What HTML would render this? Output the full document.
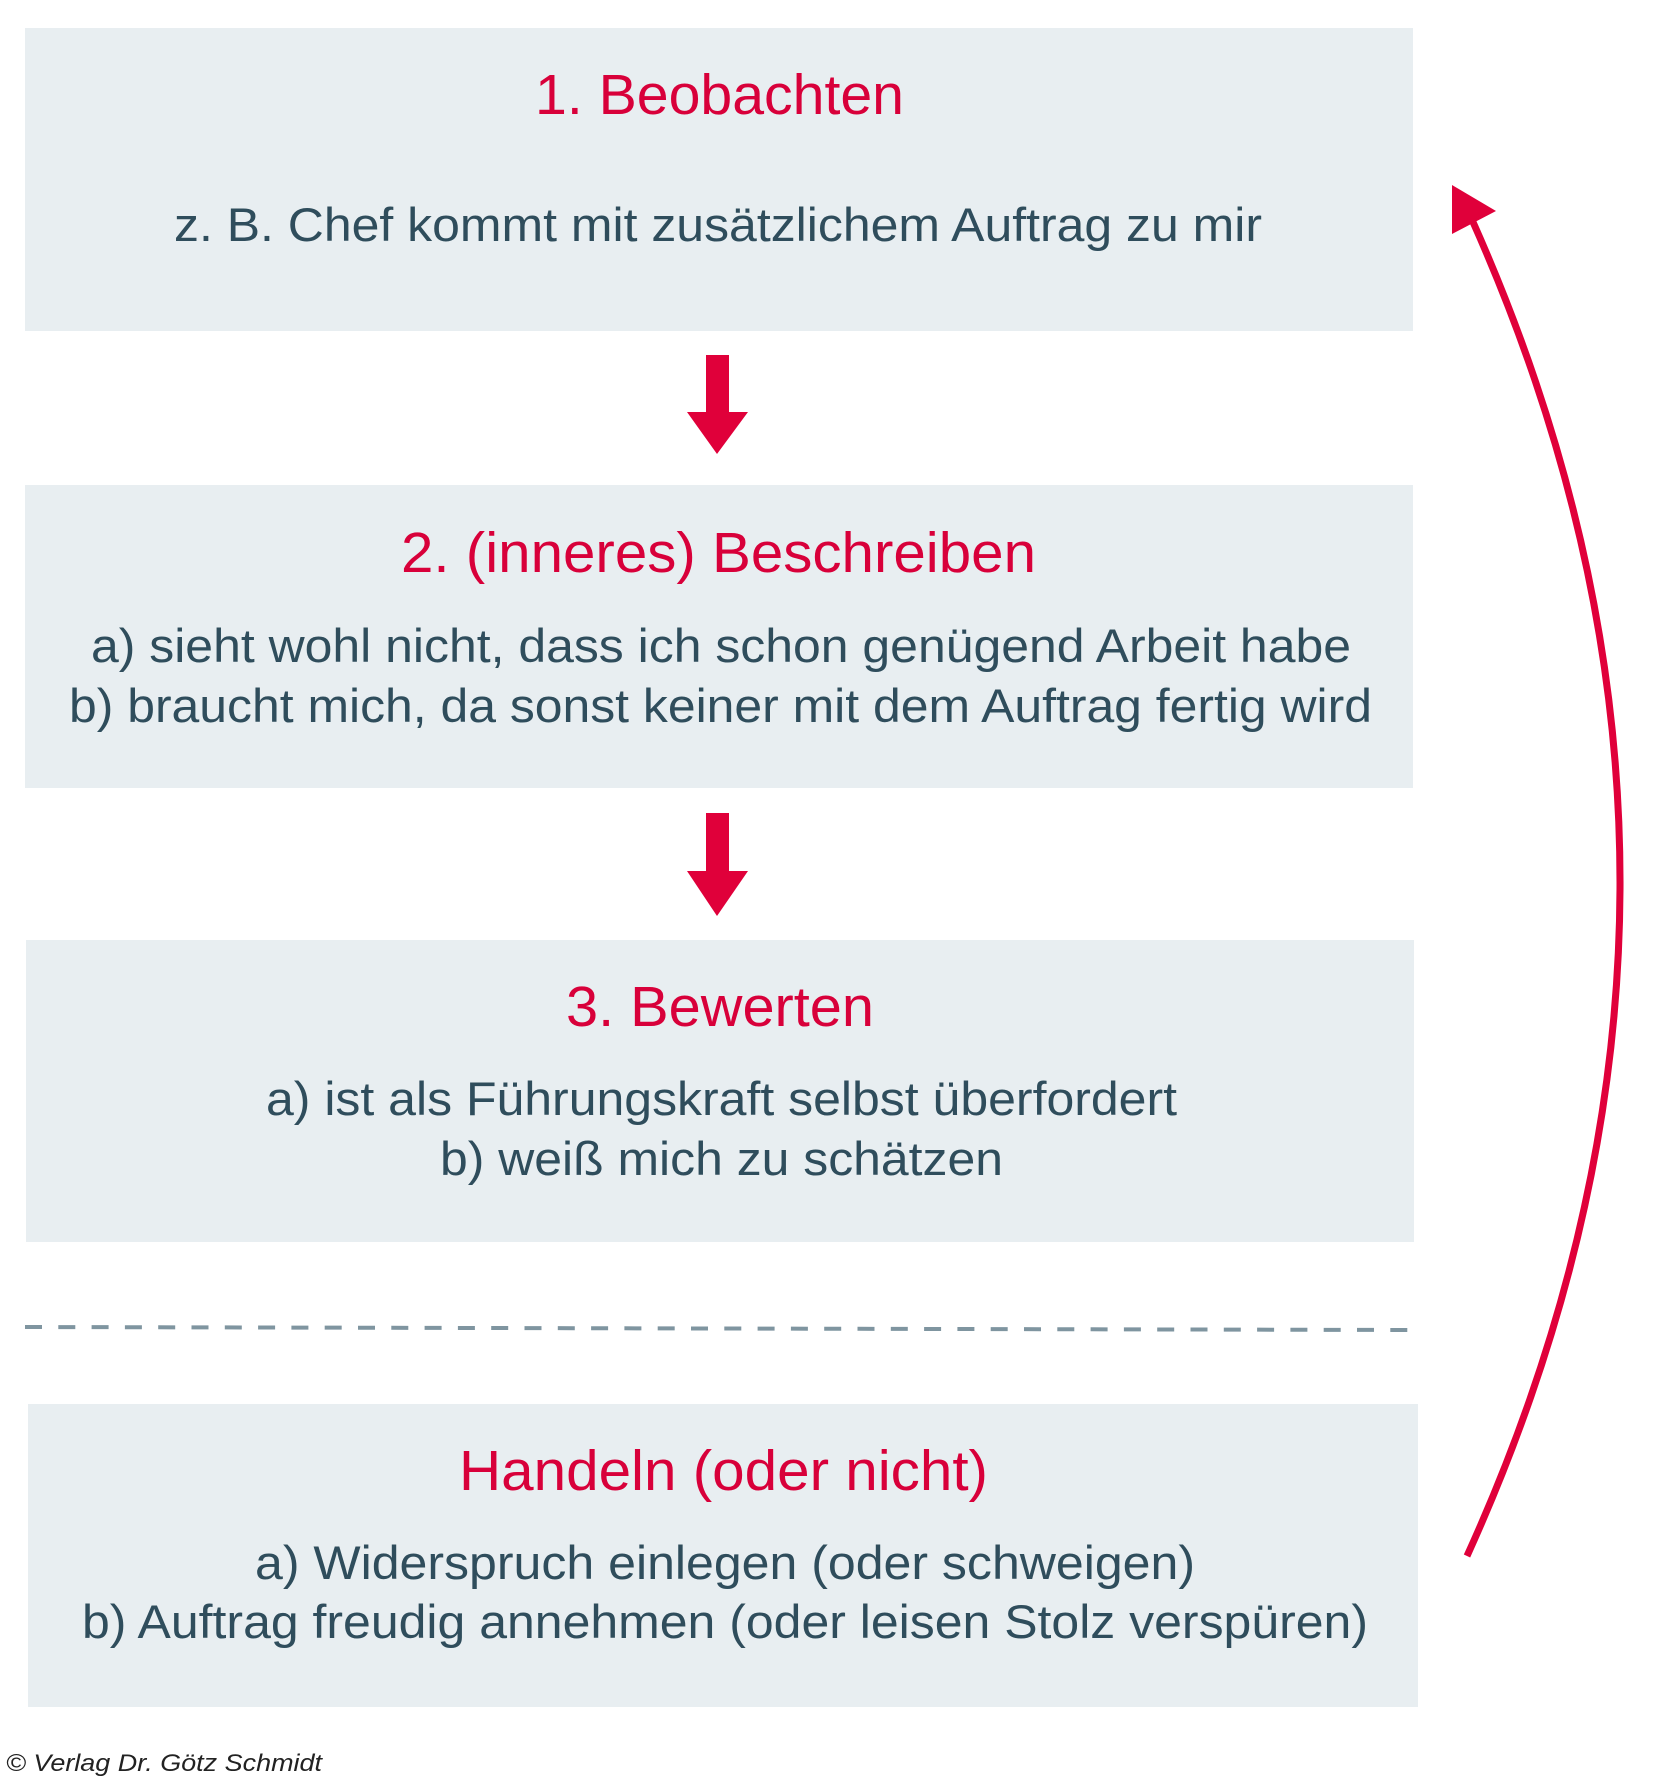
<!DOCTYPE html>
<html><head><meta charset="utf-8"><style>
html,body{margin:0;padding:0;background:#fff;}
svg{display:block;}
text{font-family:"Liberation Sans",sans-serif;}
.t{fill:#d8003a;font-size:57px;}
.b{fill:#2f4d5c;font-size:47px;}
</style></head><body>
<svg width="1662" height="1784" viewBox="0 0 1662 1784" xmlns="http://www.w3.org/2000/svg">
<rect x="25" y="28" width="1388" height="303" fill="#e8eef1"/>
<rect x="25" y="485" width="1388" height="303" fill="#e8eef1"/>
<rect x="26" y="940" width="1388" height="302" fill="#e8eef1"/>
<rect x="28" y="1404" width="1390" height="303" fill="#e8eef1"/>

<text class="t" x="535" y="114" textLength="369" lengthAdjust="spacingAndGlyphs">1. Beobachten</text>
<text class="b" x="174" y="241" textLength="1088" lengthAdjust="spacingAndGlyphs">z. B. Chef kommt mit zusätzlichem Auftrag zu mir</text>

<text class="t" x="401" y="572" textLength="635" lengthAdjust="spacingAndGlyphs">2. (inneres) Beschreiben</text>
<text class="b" x="91" y="662" textLength="1260" lengthAdjust="spacingAndGlyphs">a) sieht wohl nicht, dass ich schon genügend Arbeit habe</text>
<text class="b" x="69" y="722" textLength="1303" lengthAdjust="spacingAndGlyphs">b) braucht mich, da sonst keiner mit dem Auftrag fertig wird</text>

<text class="t" x="566" y="1026" textLength="308" lengthAdjust="spacingAndGlyphs">3. Bewerten</text>
<text class="b" x="266" y="1115" textLength="911" lengthAdjust="spacingAndGlyphs">a) ist als Führungskraft selbst überfordert</text>
<text class="b" x="440" y="1175" textLength="563" lengthAdjust="spacingAndGlyphs">b) weiß mich zu schätzen</text>

<text class="t" x="459" y="1490" textLength="529" lengthAdjust="spacingAndGlyphs">Handeln (oder nicht)</text>
<text class="b" x="255" y="1579" textLength="940" lengthAdjust="spacingAndGlyphs">a) Widerspruch einlegen (oder schweigen)</text>
<text class="b" x="82" y="1638" textLength="1286" lengthAdjust="spacingAndGlyphs">b) Auftrag freudig annehmen (oder leisen Stolz verspüren)</text>

<!-- down arrows -->
<polygon points="706,355 729,355 729,412 748,412 717,454 687,412 706,412" fill="#e0003a"/>
<polygon points="706,813 729,813 729,871 748,871 717,916 687,871 706,871" fill="#e0003a"/>

<!-- dashed line -->
<line x1="25" y1="1327" x2="1410" y2="1330" stroke="#7f95a0" stroke-width="4" stroke-dasharray="17 16.3"/>

<!-- curved arrow -->
<path d="M1467,1556 Q1770,889 1473,222" fill="none" stroke="#e0003a" stroke-width="7"/>
<polygon points="1452,185 1452,234 1496,211" fill="#e0003a"/>

<text x="6" y="1771" font-size="24" font-style="italic" fill="#222" textLength="316" lengthAdjust="spacingAndGlyphs">© Verlag Dr. Götz Schmidt</text>
</svg>
</body></html>
